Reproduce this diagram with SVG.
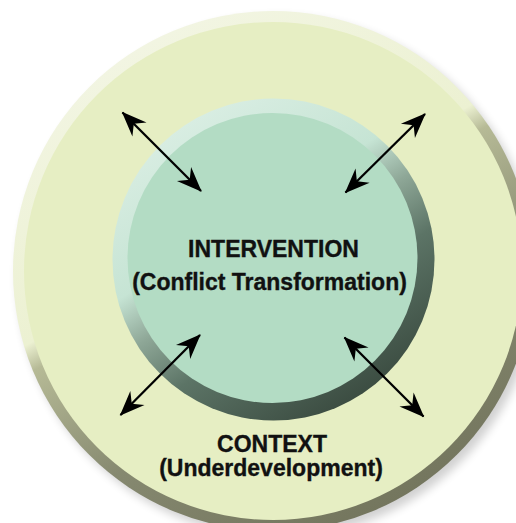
<svg xmlns="http://www.w3.org/2000/svg" width="516" height="523" viewBox="0 0 516 523">
  <style>
    .lbl { font-family: "Liberation Sans", Arial, sans-serif; font-weight: bold; font-size: 23px; fill: #111111; stroke: #111111; stroke-width: 0.35; text-anchor: middle; }
    .conn { stroke: #000000; stroke-width: 2.3; fill: none; marker-start: url(#head); marker-end: url(#head); }
  </style>
  <defs>
    <marker id="head" viewBox="-26 -11 28 22" refX="0" refY="0" markerWidth="28" markerHeight="22" markerUnits="userSpaceOnUse" orient="auto-start-reverse">
      <path d="M1,0 L-24,-10 L-16,0 L-24,10 Z" fill="#000000"/>
    </marker>
    <linearGradient id="outerRim" gradientUnits="userSpaceOnUse" x1="149.5" y1="42.2" x2="396.5" y2="499.8">
      <stop offset="0" stop-color="#F2F5E2"/>
      <stop offset="0.40" stop-color="#ECF1D2"/>
      <stop offset="0.45" stop-color="#B6BA96"/>
      <stop offset="0.7" stop-color="#868970"/>
      <stop offset="1" stop-color="#74765E"/>
    </linearGradient>
    <linearGradient id="innerRim" gradientUnits="userSpaceOnUse" x1="187" y1="123" x2="359" y2="396">
      <stop offset="0" stop-color="#D8EDE2"/>
      <stop offset="0.35" stop-color="#C6E4D4"/>
      <stop offset="0.5" stop-color="#8EA797"/>
      <stop offset="0.68" stop-color="#5C7466"/>
      <stop offset="1" stop-color="#3C4D42"/>
    </linearGradient>
    <filter id="shadow" x="-20%" y="-20%" width="140%" height="140%">
      <feGaussianBlur stdDeviation="5"/>
    </filter>
  </defs>

  <rect width="516" height="523" fill="#FFFFFF"/>

  <g id="context">
    <circle cx="278" cy="277" r="260" fill="#000000" opacity="0.18" filter="url(#shadow)"/>
    <circle cx="273" cy="271" r="260" fill="url(#outerRim)"/>
    <circle cx="273" cy="271" r="249" fill="#E6EEC3"/>
    <text class="lbl" x="272" y="451.5">CONTEXT</text>
    <text class="lbl" x="271" y="475.5">(Underdevelopment)</text>
  </g>

  <g id="intervention">
    <circle cx="273.5" cy="259.5" r="161" fill="url(#innerRim)"/>
    <circle cx="272.5" cy="258" r="145" fill="#B3DCC4"/>
    <text class="lbl" x="273.5" y="257">INTERVENTION</text>
    <text class="lbl" x="269.5" y="290">(Conflict Transformation)</text>
  </g>

  <g id="connectors">
    <line class="conn" x1="122.5" y1="112.5" x2="201" y2="191"/>
    <line class="conn" x1="425" y1="114" x2="345.5" y2="192.5"/>
    <line class="conn" x1="200" y1="335" x2="120.5" y2="415"/>
    <line class="conn" x1="344.5" y1="337.5" x2="423.5" y2="416.5"/>
  </g>
</svg>
